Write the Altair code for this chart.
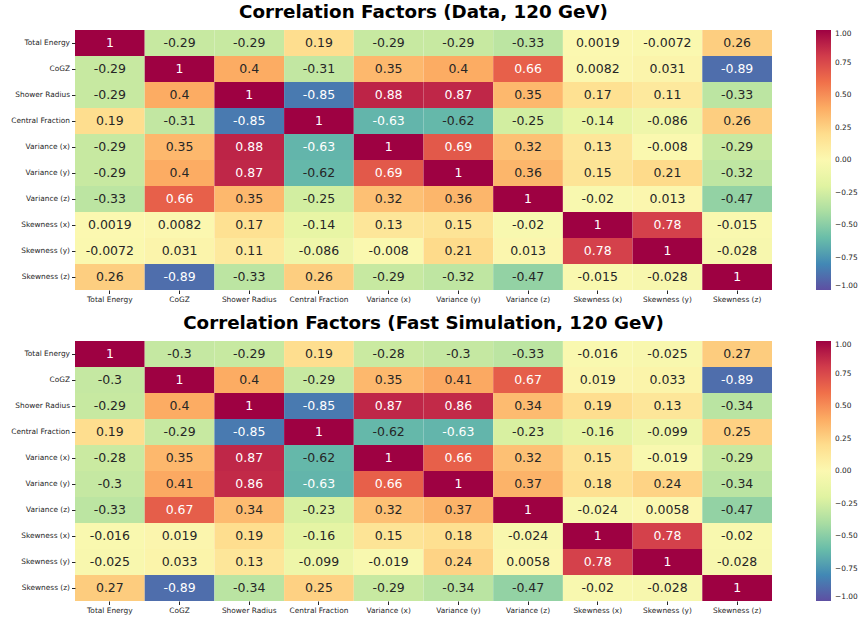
import altair as alt
import pandas as pd

variables = ["Total Energy", "CoGZ", "Shower Radius", "Central Fraction",
             "Variance (x)", "Variance (y)", "Variance (z)",
             "Skewness (x)", "Skewness (y)", "Skewness (z)"]

data_title = "Correlation Factors (Data, 120 GeV)"
sim_title = "Correlation Factors (Fast Simulation, 120 GeV)"

corr_data = [
    [1, -0.29, -0.29, 0.19, -0.29, -0.29, -0.33, 0.0019, -0.0072, 0.26],
    [-0.29, 1, 0.4, -0.31, 0.35, 0.4, 0.66, 0.0082, 0.031, -0.89],
    [-0.29, 0.4, 1, -0.85, 0.88, 0.87, 0.35, 0.17, 0.11, -0.33],
    [0.19, -0.31, -0.85, 1, -0.63, -0.62, -0.25, -0.14, -0.086, 0.26],
    [-0.29, 0.35, 0.88, -0.63, 1, 0.69, 0.32, 0.13, -0.008, -0.29],
    [-0.29, 0.4, 0.87, -0.62, 0.69, 1, 0.36, 0.15, 0.21, -0.32],
    [-0.33, 0.66, 0.35, -0.25, 0.32, 0.36, 1, -0.02, 0.013, -0.47],
    [0.0019, 0.0082, 0.17, -0.14, 0.13, 0.15, -0.02, 1, 0.78, -0.015],
    [-0.0072, 0.031, 0.11, -0.086, -0.008, 0.21, 0.013, 0.78, 1, -0.028],
    [0.26, -0.89, -0.33, 0.26, -0.29, -0.32, -0.47, -0.015, -0.028, 1],
]

corr_sim = [
    [1, -0.3, -0.29, 0.19, -0.28, -0.3, -0.33, -0.016, -0.025, 0.27],
    [-0.3, 1, 0.4, -0.29, 0.35, 0.41, 0.67, 0.019, 0.033, -0.89],
    [-0.29, 0.4, 1, -0.85, 0.87, 0.86, 0.34, 0.19, 0.13, -0.34],
    [0.19, -0.29, -0.85, 1, -0.62, -0.63, -0.23, -0.16, -0.099, 0.25],
    [-0.28, 0.35, 0.87, -0.62, 1, 0.66, 0.32, 0.15, -0.019, -0.29],
    [-0.3, 0.41, 0.86, -0.63, 0.66, 1, 0.37, 0.18, 0.24, -0.34],
    [-0.33, 0.67, 0.34, -0.23, 0.32, 0.37, 1, -0.024, 0.0058, -0.47],
    [-0.016, 0.019, 0.19, -0.16, 0.15, 0.18, -0.024, 1, 0.78, -0.02],
    [-0.025, 0.033, 0.13, -0.099, -0.019, 0.24, 0.0058, 0.78, 1, -0.028],
    [0.27, -0.89, -0.34, 0.25, -0.29, -0.34, -0.47, -0.02, -0.028, 1],
]

legend_ticks = [-1.0, -0.75, -0.5, -0.25, 0.0, 0.25, 0.5, 0.75, 1.0]

FONT = "DejaVu Sans"


def to_long(matrix):
    rows = []
    for i, rname in enumerate(variables):
        for j, cname in enumerate(variables):
            v = matrix[i][j]
            rows.append({"row": rname, "col": cname, "v": v, "label": f"{v:.2g}"})
    return pd.DataFrame(rows)


def heatmap(matrix, title):
    df = to_long(matrix)
    base = alt.Chart(df).encode(
        x=alt.X("col:N", sort=variables, title=None,
                axis=alt.Axis(orient="bottom", labelAngle=0, domain=False, ticks=True,
                              tickSize=3.5, tickColor="#262626", labelFontSize=7.4,
                              labelFont=FONT, labelColor="#262626", labelPadding=2,
                              labelLimit=200)),
        y=alt.Y("row:N", sort=variables, title=None,
                axis=alt.Axis(domain=False, ticks=True, tickSize=3.5, tickColor="#262626",
                              labelFontSize=7.4, labelFont=FONT, labelColor="#262626",
                              labelPadding=2, labelLimit=200)),
    )
    rect = base.mark_rect(stroke=None).encode(
        color=alt.Color("v:Q",
                        scale=alt.Scale(scheme="spectral", reverse=True, domain=[-1, 1]),
                        legend=alt.Legend(title=None, values=legend_ticks, format=".2f",
                                          gradientLength=260, gradientThickness=15,
                                          labelFontSize=7.4, labelFont=FONT,
                                          labelColor="#262626", offset=44, padding=0,
                                          labelOffset=4, direction="vertical"))
    )
    text = base.mark_text(fontSize=12.5, font=FONT).encode(
        text="label:N",
        color=alt.condition(alt.expr.abs(alt.datum.v) >= 0.625,
                            alt.value("white"), alt.value("#262626")),
    )
    return alt.layer(rect, text).properties(
        width=697, height=260,
        title=alt.TitleParams(title, fontSize=18.3, font=FONT, fontWeight="bold",
                              color="black", anchor="middle", offset=8),
    )


chart = alt.vconcat(
    heatmap(corr_data, data_title),
    heatmap(corr_sim, sim_title),
    spacing=10,
).resolve_scale(color="independent").configure_view(stroke=None).properties(
    padding={"left": 10, "top": 2, "right": 5, "bottom": 2}
)

chart.save("out.html", embed_options={"renderer": "svg", "actions": False})
